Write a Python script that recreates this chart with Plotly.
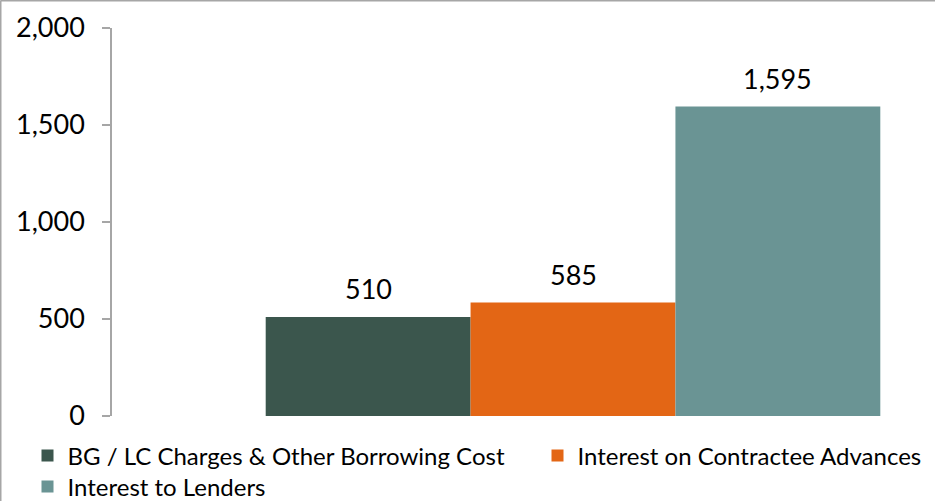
import plotly.graph_objects as go

# Borrowing cost components
series_names = [
    "BG / LC Charges & Other Borrowing Cost",
    "Interest on Contractee Advances",
    "Interest to Lenders",
]
series_values = [510, 585, 1595]
series_colors = ["#3B564D", "#E36615", "#6A9494"]

y_ticks = [0, 500, 1000, 1500, 2000]
y_tick_labels = ["0", "500", "1,000", "1,500", "2,000"]

FONT = "Lato, 'Open Sans', sans-serif"
AXIS_GRAY = "#A6A6A6"

W, H = 935, 501
M_L, M_R, M_T, M_B = 112, 0, 28, 85
plot_w = W - M_L - M_R
plot_h = H - M_T - M_B

bar_w = 0.2222
offsets = [-bar_w, 0.0, bar_w]
legend_ids = ["legend", "legend2", "legend3"]

fig = go.Figure()
for name, val, col, off, lg in zip(series_names, series_values, series_colors,
                                    offsets, legend_ids):
    fig.add_trace(go.Bar(
        x=[off], y=[val], name=name, width=bar_w,
        marker=dict(color=col, line=dict(width=0)),
        hoverinfo="y", legend=lg,
    ))
    fig.add_annotation(
        x=off, y=val, xref="x", yref="y",
        text=f"{val:,}", showarrow=False,
        yanchor="bottom", yshift=10,
        font=dict(family=FONT, size=27, color="#000000"),
    )

# frame lines along the top and left of the chart area
top_y = 1 + (M_T - 0.5) / plot_h
left_x = (-M_L + 0.5) / plot_w
fig.add_shape(type="line", xref="paper", yref="paper",
              x0=left_x, x1=1.0, y0=top_y, y1=top_y,
              line=dict(color=AXIS_GRAY, width=2))
fig.add_shape(type="line", xref="paper", yref="paper",
              x0=left_x, x1=left_x, y0=-M_B / plot_h, y1=top_y,
              line=dict(color=AXIS_GRAY, width=2))


def px_x(px):
    return (px - M_L) / plot_w


def px_y(px):
    return (H - M_B - px) / plot_h


legend_style = dict(
    orientation="h", xanchor="left", yanchor="middle",
    font=dict(family=FONT, size=24, color="#000000"),
    itemclick=False, bgcolor="rgba(0,0,0,0)",
)

fig.update_layout(
    width=W, height=H,
    margin=dict(l=M_L, r=M_R, t=M_T, b=M_B, autoexpand=False),
    paper_bgcolor="white", plot_bgcolor="white",
    barmode="overlay",
    font=dict(family=FONT, size=24, color="#000000"),
    showlegend=True,
    legend=dict(x=px_x(27.5), y=px_y(456), **legend_style),
    legend2=dict(x=px_x(537.5), y=px_y(456), **legend_style),
    legend3=dict(x=px_x(27.5), y=px_y(487), **legend_style),
    xaxis=dict(
        range=[-0.5, -0.5 + plot_w / 922.0],
        visible=False, fixedrange=True,
    ),
    yaxis=dict(
        range=[0, 2000],
        tickvals=y_ticks, ticktext=y_tick_labels,
        showline=True, linecolor=AXIS_GRAY, linewidth=1.5,
        ticks="outside", ticklen=8, tickcolor=AXIS_GRAY, tickwidth=1.5,
        showgrid=False, zeroline=False,
        ticklabelstandoff=12,
        tickfont=dict(family=FONT, size=27, color="#000000"),
        fixedrange=True,
    ),
)

fig.write_html("out.html")
